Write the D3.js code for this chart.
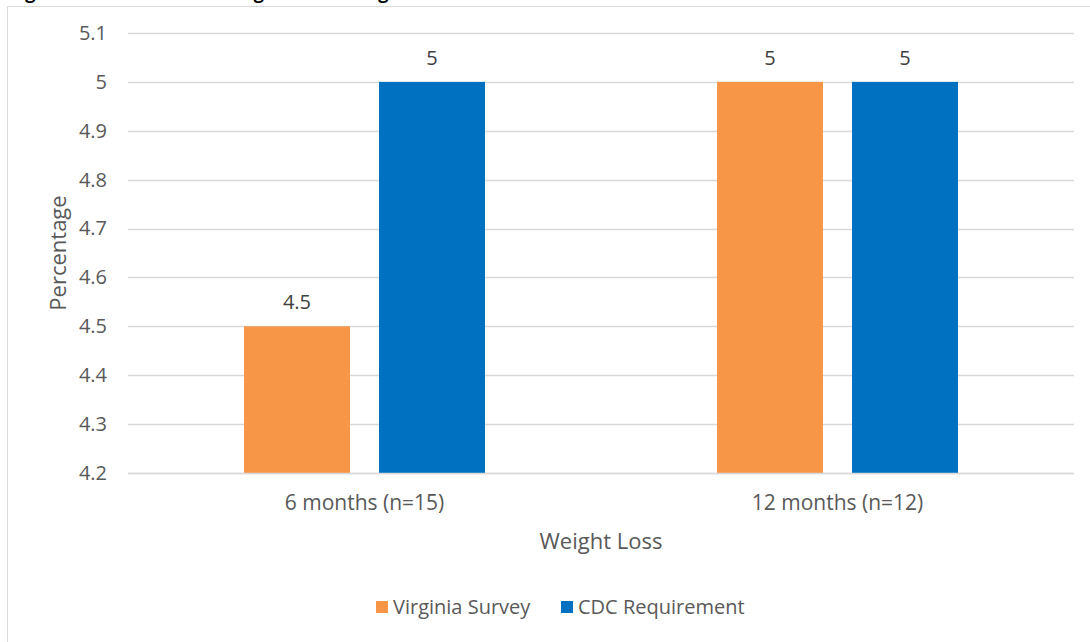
<!DOCTYPE html>
<html>
<head>
<meta charset="utf-8">
<script src="https://cdn.jsdelivr.net/npm/d3@7"></script>
<style>
  html, body { margin: 0; padding: 0; background: #fff; }
  svg { display: block; font-family: "Open Sans", sans-serif; }
</style>
</head>
<body>
<svg id="chart" width="1090" height="642"></svg>
<script>
// Chart data
const categories = ["6 months (n=15)", "12 months (n=12)"];
const seriesNames = ["Virginia Survey", "CDC Requirement"];
const virginiaSurvey = [4.5, 5];
const cdcRequirement = [5, 5];
const yTicks = [4.2, 4.3, 4.4, 4.5, 4.6, 4.7, 4.8, 4.9, 5.0, 5.1];
const seriesColors = ["#F79646", "#0070C0"];

const seriesValues = [virginiaSurvey, cdcRequirement];
const rows = categories.map((c, i) => ({
  category: c,
  values: seriesNames.map((s, j) => ({ series: s, value: seriesValues[j][i], color: seriesColors[j] }))
}));

const svg = d3.select("#chart");
const textColor = "#595959";
const gridColor = "#D9D9D9";

// Document caption running above the chart frame
svg.append("text")
  .attr("x", 10).attr("y", -1)
  .attr("font-weight", "bold").attr("font-size", 18).attr("fill", "#000")
  .text("Figure 3. Mean Percent Weight Loss Change from Baseline");

// Chart frame
svg.append("rect")
  .attr("x", 7.5).attr("y", 6.5).attr("width", 1100).attr("height", 700)
  .attr("fill", "none").attr("stroke", gridColor).attr("stroke-width", 1);

const plot = { left: 128, right: 1074, top: 33, bottom: 473 };

const y = d3.scaleLinear().domain([4.2, 5.1]).range([plot.bottom, plot.top]);
const x0 = d3.scaleBand().domain(categories).range([plot.left, plot.right]).padding(0);
const x1 = d3.scaleBand().domain(seriesNames).range([0, x0.bandwidth()])
  .paddingInner(0.215).paddingOuter(0.859);

// Gridlines
svg.append("g")
  .selectAll("line")
  .data(yTicks)
  .join("line")
  .attr("x1", plot.left).attr("x2", plot.right)
  .attr("y1", d => Math.round(y(d)) + 0.5).attr("y2", d => Math.round(y(d)) + 0.5)
  .attr("stroke", gridColor).attr("stroke-width", 1.3);

// Y axis tick labels
const yAxis = d3.axisLeft(y).tickValues(yTicks).tickSize(0).tickPadding(0)
  .tickFormat(d => d3.format("")(+d.toFixed(1)));
const yg = svg.append("g").attr("transform", `translate(${plot.left - 21},0)`).call(yAxis);
yg.select(".domain").remove();
yg.selectAll("text").attr("font-size", 20).attr("fill", textColor)
  .attr("font-family", "Open Sans, sans-serif");

// Bars
const groups = svg.append("g").selectAll("g")
  .data(rows).join("g")
  .attr("transform", d => `translate(${x0(d.category)},0)`);

groups.selectAll("rect")
  .data(d => d.values).join("rect")
  .attr("x", d => x1(d.series))
  .attr("y", d => y(d.value))
  .attr("width", x1.bandwidth())
  .attr("height", d => y(4.2) - y(d.value))
  .attr("fill", d => d.color);

// Value labels
groups.selectAll("text.val")
  .data(d => d.values).join("text")
  .attr("class", "val")
  .attr("x", d => x1(d.series) + x1.bandwidth() / 2)
  .attr("y", d => y(d.value) - 17)
  .attr("text-anchor", "middle")
  .attr("font-size", 20).attr("fill", "#404040")
  .text(d => d3.format("")(d.value));

// X axis baseline
svg.append("line")
  .attr("x1", plot.left).attr("x2", plot.right)
  .attr("y1", y(4.2) + 0.5).attr("y2", y(4.2) + 0.5)
  .attr("stroke", gridColor).attr("stroke-width", 1.3);

// X axis category labels
const xAxis = d3.axisBottom(x0).tickSize(0).tickPadding(0);
const xg = svg.append("g").attr("transform", `translate(0,${plot.bottom + 37})`).call(xAxis);
xg.select(".domain").remove();
xg.selectAll("text").attr("font-size", 21).attr("fill", textColor)
  .attr("font-family", "Open Sans, sans-serif").attr("dy", 0);

// Axis titles
svg.append("text")
  .attr("x", (plot.left + plot.right) / 2).attr("y", 549)
  .attr("text-anchor", "middle").attr("font-size", 22).attr("fill", textColor)
  .text("Weight Loss");

svg.append("text")
  .attr("transform", `translate(66,${(plot.top + plot.bottom) / 2}) rotate(-90)`)
  .attr("text-anchor", "middle").attr("font-size", 22).attr("fill", textColor)
  .text("Percentage");

// Legend
const legend = svg.append("g").attr("transform", "translate(376,607)");
const legendX = [0, 185];
const items = legend.selectAll("g").data(seriesNames).join("g")
  .attr("transform", (d, i) => `translate(${legendX[i]},0)`);
items.append("rect").attr("x", 0).attr("y", -6).attr("width", 12).attr("height", 12)
  .attr("fill", (d, i) => seriesColors[i]);
items.append("text").attr("x", 17).attr("y", 7).attr("font-size", 20).attr("fill", textColor)
  .text(d => d);
</script>
</body>
</html>
